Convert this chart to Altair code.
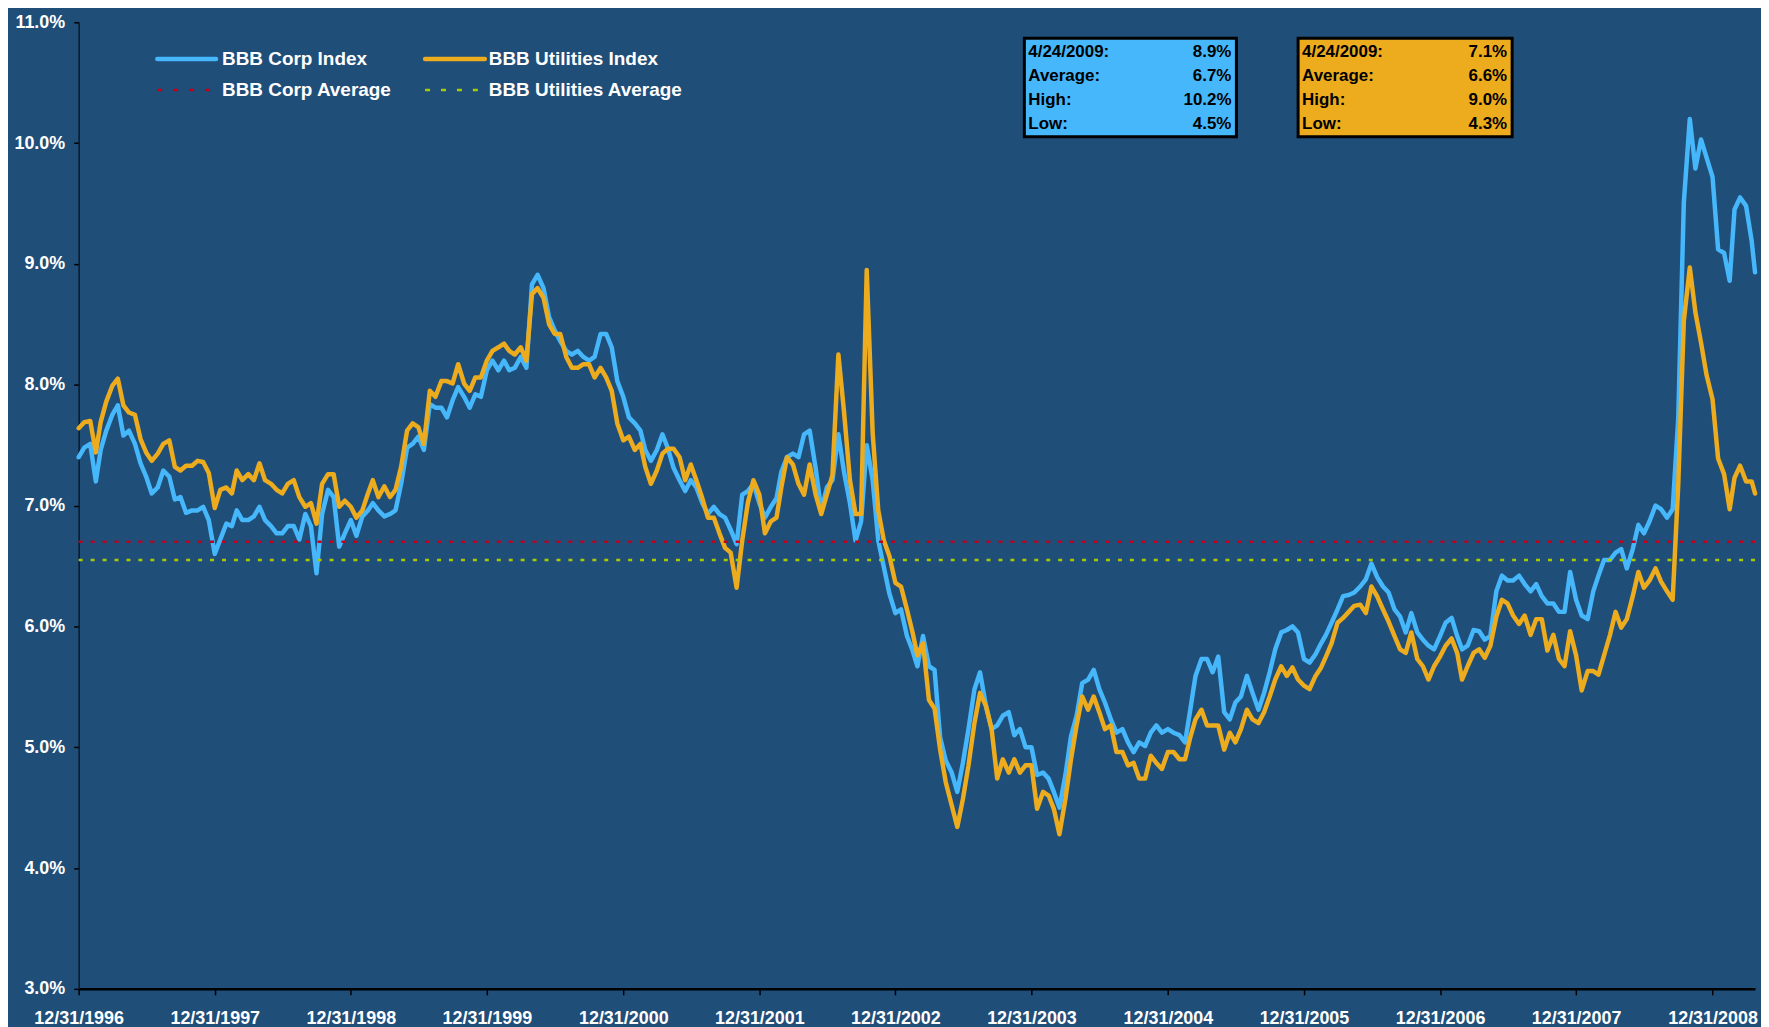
import calendar
import pandas as pd
import altair as alt

# ---------------- data (semi-monthly readings, % yield) ----------------
start_corp = 7.40
start_util = 7.64

corp_1997 = [7.48, 7.51, 7.20, 7.46, 7.62, 7.75, 7.83, 7.58, 7.62, 7.51, 7.35, 7.24,
             7.10, 7.15, 7.29, 7.24, 7.05, 7.07, 6.94, 6.96, 6.96, 6.99, 6.88, 6.60]
util_1997 = [7.69, 7.70, 7.44, 7.69, 7.86, 7.99, 8.05, 7.83, 7.77, 7.75, 7.55, 7.44,
             7.37, 7.43, 7.51, 7.54, 7.32, 7.29, 7.33, 7.33, 7.37, 7.36, 7.27, 6.98]

corp_1998 = [6.72, 6.85, 6.83, 6.96, 6.88, 6.88, 6.91, 6.99, 6.88, 6.83, 6.77, 6.77,
             6.83, 6.83, 6.72, 6.93, 6.83, 6.44, 6.93, 7.13, 7.07, 6.66, 6.77, 6.88]
util_1998 = [7.13, 7.15, 7.10, 7.29, 7.21, 7.26, 7.21, 7.35, 7.21, 7.18, 7.13, 7.10,
             7.18, 7.21, 7.07, 6.99, 7.02, 6.85, 7.18, 7.26, 7.26, 6.99, 7.04, 6.99]

corp_1999 = [6.75, 6.91, 6.96, 7.02, 6.96, 6.91, 6.93, 6.96, 7.18, 7.48, 7.51, 7.57,
             7.46, 7.84, 7.81, 7.81, 7.73, 7.87, 7.98, 7.90, 7.81, 7.92, 7.90, 8.12]
util_1999 = [6.90, 6.96, 7.10, 7.21, 7.07, 7.16, 7.07, 7.13, 7.32, 7.62, 7.68, 7.65,
             7.51, 7.95, 7.90, 8.03, 8.03, 8.01, 8.17, 8.01, 7.95, 8.06, 8.06, 8.20]

corp_2000 = [8.20, 8.12, 8.20, 8.12, 8.14, 8.23, 8.14, 8.83, 8.91, 8.80, 8.56, 8.45,
             8.36, 8.28, 8.25, 8.28, 8.23, 8.20, 8.23, 8.42, 8.42, 8.31, 8.03, 7.90]
util_2000 = [8.28, 8.31, 8.34, 8.28, 8.25, 8.31, 8.20, 8.75, 8.80, 8.72, 8.50, 8.42,
             8.42, 8.23, 8.14, 8.14, 8.17, 8.17, 8.06, 8.14, 8.06, 7.95, 7.68, 7.54]

corp_2001 = [7.73, 7.68, 7.62, 7.46, 7.37, 7.46, 7.59, 7.47, 7.31, 7.21, 7.12, 7.21,
             7.15, 7.02, 6.93, 6.99, 6.93, 6.90, 6.80, 6.68, 7.09, 7.12, 7.18, 7.02]
util_2001 = [7.57, 7.46, 7.51, 7.32, 7.18, 7.29, 7.43, 7.47, 7.47, 7.40, 7.21, 7.34,
             7.21, 7.06, 6.90, 6.90, 6.77, 6.65, 6.61, 6.32, 6.71, 7.02, 7.21, 7.09]

corp_2002 = [6.90, 6.99, 7.06, 7.28, 7.40, 7.43, 7.40, 7.59, 7.62, 7.31, 6.96, 7.15,
             7.21, 7.59, 7.28, 7.02, 6.71, 6.87, 7.50, 7.21, 6.71, 6.49, 6.27, 6.11]
util_2002 = [6.77, 6.87, 6.90, 7.15, 7.40, 7.34, 7.18, 7.09, 7.34, 7.09, 6.93, 7.09,
             7.25, 8.25, 7.78, 7.21, 6.93, 6.93, 8.95, 7.60, 6.96, 6.71, 6.58, 6.36]

corp_2003 = [6.14, 5.92, 5.80, 5.67, 5.92, 5.67, 5.64, 5.08, 4.89, 4.79, 4.63, 4.87,
             5.15, 5.48, 5.62, 5.34, 5.15, 5.18, 5.26, 5.29, 5.10, 5.15, 5.00, 5.00]
util_2003 = [6.33, 6.14, 5.95, 5.76, 5.86, 5.39, 5.32, 4.98, 4.71, 4.52, 4.34, 4.57,
             4.85, 5.20, 5.45, 5.34, 5.15, 4.74, 4.90, 4.79, 4.90, 4.79, 4.85, 4.85]

corp_2004 = [4.77, 4.79, 4.74, 4.63, 4.50, 4.77, 5.09, 5.26, 5.53, 5.56, 5.64, 5.48,
             5.37, 5.23, 5.12, 5.15, 5.04, 4.96, 5.04, 5.01, 5.12, 5.18, 5.12, 5.15]
util_2004 = [4.49, 4.63, 4.60, 4.49, 4.28, 4.57, 4.90, 5.18, 5.42, 5.31, 5.42, 5.29,
             5.15, 5.18, 4.96, 4.96, 4.85, 4.87, 4.74, 4.74, 4.93, 4.87, 4.82, 4.96]

corp_2005 = [5.12, 5.10, 5.04, 5.29, 5.59, 5.73, 5.73, 5.62, 5.75, 5.29, 5.23, 5.37,
             5.42, 5.59, 5.45, 5.31, 5.45, 5.62, 5.81, 5.95, 5.97, 6.00, 5.95, 5.73]
util_2005 = [4.96, 4.90, 4.90, 5.07, 5.23, 5.31, 5.18, 5.18, 5.18, 4.98, 5.12, 5.04,
             5.15, 5.31, 5.23, 5.20, 5.29, 5.42, 5.56, 5.67, 5.59, 5.66, 5.56, 5.51]

corp_2006 = [5.70, 5.77, 5.86, 5.93, 6.03, 6.14, 6.25, 6.26, 6.28, 6.33, 6.39, 6.52,
             6.41, 6.33, 6.28, 6.14, 6.08, 5.95, 6.11, 5.95, 5.89, 5.84, 5.81, 5.92]
util_2006 = [5.48, 5.59, 5.66, 5.75, 5.86, 6.03, 6.07, 6.12, 6.17, 6.18, 6.11, 6.33,
             6.25, 6.14, 6.04, 5.92, 5.81, 5.78, 5.95, 5.73, 5.67, 5.56, 5.67, 5.75]

corp_2007 = [6.03, 6.07, 5.92, 5.81, 5.84, 5.97, 5.96, 5.89, 5.92, 6.29, 6.42, 6.38,
             6.38, 6.42, 6.35, 6.29, 6.35, 6.25, 6.19, 6.19, 6.12, 6.12, 6.45, 6.22]
util_2007 = [5.84, 5.90, 5.78, 5.56, 5.67, 5.78, 5.81, 5.74, 5.84, 6.08, 6.22, 6.19,
             6.09, 6.02, 6.09, 5.93, 6.06, 6.06, 5.80, 5.93, 5.73, 5.67, 5.96, 5.76]

corp_2008 = [6.09, 6.06, 6.29, 6.42, 6.55, 6.55, 6.61, 6.64, 6.48, 6.64, 6.84, 6.77,
             6.87, 7.00, 6.97, 6.90, 6.97, 7.72, 9.51, 10.20, 9.79, 10.03, 9.88, 9.72]
util_2008 = [5.47, 5.63, 5.63, 5.60, 5.76, 5.93, 6.12, 5.99, 6.06, 6.25, 6.45, 6.32,
             6.38, 6.48, 6.37, 6.29, 6.22, 7.17, 8.53, 8.97, 8.60, 8.35, 8.08, 7.88]

corp_2009 = [9.12, 9.09, 8.86, 9.45, 9.55, 9.48, 9.19, 8.93]
util_2009 = [7.39, 7.26, 6.97, 7.23, 7.33, 7.20, 7.20, 7.10]

corp_average = 6.70
util_average = 6.55

x_tick_dates = ["1996-12-31", "1997-12-31", "1998-12-31", "1999-12-31", "2000-12-31",
                "2001-12-31", "2002-12-31", "2003-12-31", "2004-12-31", "2005-12-31",
                "2006-12-31", "2007-12-31", "2008-12-31"]
y_ticks = [3, 4, 5, 6, 7, 8, 9, 10, 11]

legend_labels = ["BBB Corp Index", "BBB Utilities Index", "BBB Corp Average", "BBB Utilities Average"]
box_labels = ["4/24/2009:", "Average:", "High:", "Low:"]
corp_box_values = [8.9, 6.7, 10.2, 4.5]
util_box_values = [7.1, 6.6, 9.0, 4.3]

# ---------------- build table ----------------
dates = ["1996-12-31"]
for yr in range(1997, 2010):
    for mo in range(1, 13):
        for d in (15, calendar.monthrange(yr, mo)[1]):
            s = f"{yr:04d}-{mo:02d}-{d:02d}"
            if s <= "2009-04-15":
                dates.append(s)
dates.append("2009-04-24")

corp = [start_corp]
util = [start_util]
for c, u in [(corp_1997, util_1997), (corp_1998, util_1998), (corp_1999, util_1999),
             (corp_2000, util_2000), (corp_2001, util_2001), (corp_2002, util_2002),
             (corp_2003, util_2003), (corp_2004, util_2004), (corp_2005, util_2005),
             (corp_2006, util_2006), (corp_2007, util_2007), (corp_2008, util_2008),
             (corp_2009, util_2009)]:
    corp += c
    util += u

df = pd.DataFrame({"date": dates, "corp": corp, "util": util})


def ms(s):
    return int(pd.Timestamp(s, tz="UTC").value // 10**6)


BG = "#1F4E79"
BLUE = "#45B7FA"
ORANGE = "#EDAB1E"
RED = "#C0001C"
LIME = "#A8CC00"
FONT = "Liberation Sans"

W, H = 1684, 971

x_enc = alt.X(
    "date:T",
    scale=alt.Scale(type="utc", domain=[ms(dates[0]), ms(dates[-1])]),
    axis=alt.Axis(
        values=[ms(d) for d in x_tick_dates],
        labelExpr="utcFormat(datum.value, '%m/%d/%Y')",
        labelColor="white", labelFont=FONT, labelFontWeight="bold", labelFontSize=18,
        labelPadding=15, labelOverlap=False, labelFlush=False,
        domainColor="black", domainWidth=2.5, tickColor="black", tickSize=6, tickWidth=1.5,
        grid=False, title=None,
    ),
)
y_scale = alt.Scale(domain=[3, 11], nice=False, zero=False)
y_axis = alt.Axis(
    values=y_ticks, labelExpr="format(datum.value, '.1f') + '%'",
    labelColor="white", labelFont=FONT, labelFontWeight="bold", labelFontSize=18,
    labelPadding=9, domainColor="#0A1A2A", domainWidth=1.5, tickColor="black",
    tickSize=5, tickWidth=1.5, grid=False, title=None,
)

base = alt.Chart(df)
corp_line = base.mark_line(color=BLUE, strokeWidth=4.5, strokeJoin="round", strokeCap="round").encode(
    x=x_enc, y=alt.Y("corp:Q", scale=y_scale, axis=y_axis))
util_line = base.mark_line(color=ORANGE, strokeWidth=4.5, strokeJoin="round", strokeCap="round").encode(
    x=x_enc, y=alt.Y("util:Q", scale=y_scale, axis=y_axis))

one = pd.DataFrame({"k": [0]})
corp_avg = alt.Chart(one).mark_rule(color=RED, strokeWidth=2.5, strokeDash=[4, 8]).encode(
    y=alt.datum(corp_average, scale=y_scale))
util_avg = alt.Chart(one).mark_rule(color=LIME, strokeWidth=2.5, strokeDash=[4, 8]).encode(
    y=alt.datum(util_average, scale=y_scale))

layers = [corp_line, util_line, corp_avg, util_avg]

# legend (manual)
leg = [
    (legend_labels[0], BLUE, None, 79, 138, 144, 37),
    (legend_labels[1], ORANGE, None, 348, 408, 412, 37),
    (legend_labels[2], RED, [5, 11], 79, 136, 144, 68),
    (legend_labels[3], LIME, [5, 11], 348, 408, 412, 68),
]
for label, col, dash, x1, x2, tx, ty in leg:
    if dash is None:
        sym = alt.Chart(one).mark_rule(color=col, strokeWidth=4.5, strokeCap="round")
    else:
        sym = alt.Chart(one).mark_rule(color=col, strokeWidth=2.5, strokeDash=dash)
    layers.append(sym.encode(x=alt.value(x1), x2=alt.value(x2), y=alt.value(ty)))
    layers.append(alt.Chart(one).mark_text(
        align="left", baseline="middle", font=FONT, fontSize=19, fontWeight="bold", color="white"
    ).encode(x=alt.value(tx), y=alt.value(ty), text=alt.value(label)))

# stat boxes
for fill, vals, bx1, bx2 in [(BLUE, corp_box_values, 950, 1163), (ORANGE, util_box_values, 1225, 1440)]:
    layers.append(alt.Chart(one).mark_rect(fill=fill, stroke="black", strokeWidth=3).encode(
        x=alt.value(bx1), x2=alt.value(bx2), y=alt.value(16), y2=alt.value(115)))
    layers.append(alt.Chart(one).mark_text(
        align="left", baseline="top", lineHeight=24, font=FONT, fontSize=17, fontWeight="bold", color="black"
    ).encode(x=alt.value(bx1 + 4), y=alt.value(22), text=alt.value(box_labels)))
    layers.append(alt.Chart(one).mark_text(
        align="right", baseline="top", lineHeight=24, font=FONT, fontSize=17, fontWeight="bold", color="black"
    ).encode(x=alt.value(bx2 - 5), y=alt.value(22), text=alt.value([f"{v:.1f}%" for v in vals])))

chart = alt.layer(*layers).properties(
    width=W, height=H,
    autosize=alt.AutoSizeParams(type="none"),
    padding={"left": 71, "top": 12, "right": 6, "bottom": 36},
    background=BG,
).configure_view(stroke=None, fill=BG)

chart.save("out.html", embed_options={"renderer": "svg", "actions": False})
